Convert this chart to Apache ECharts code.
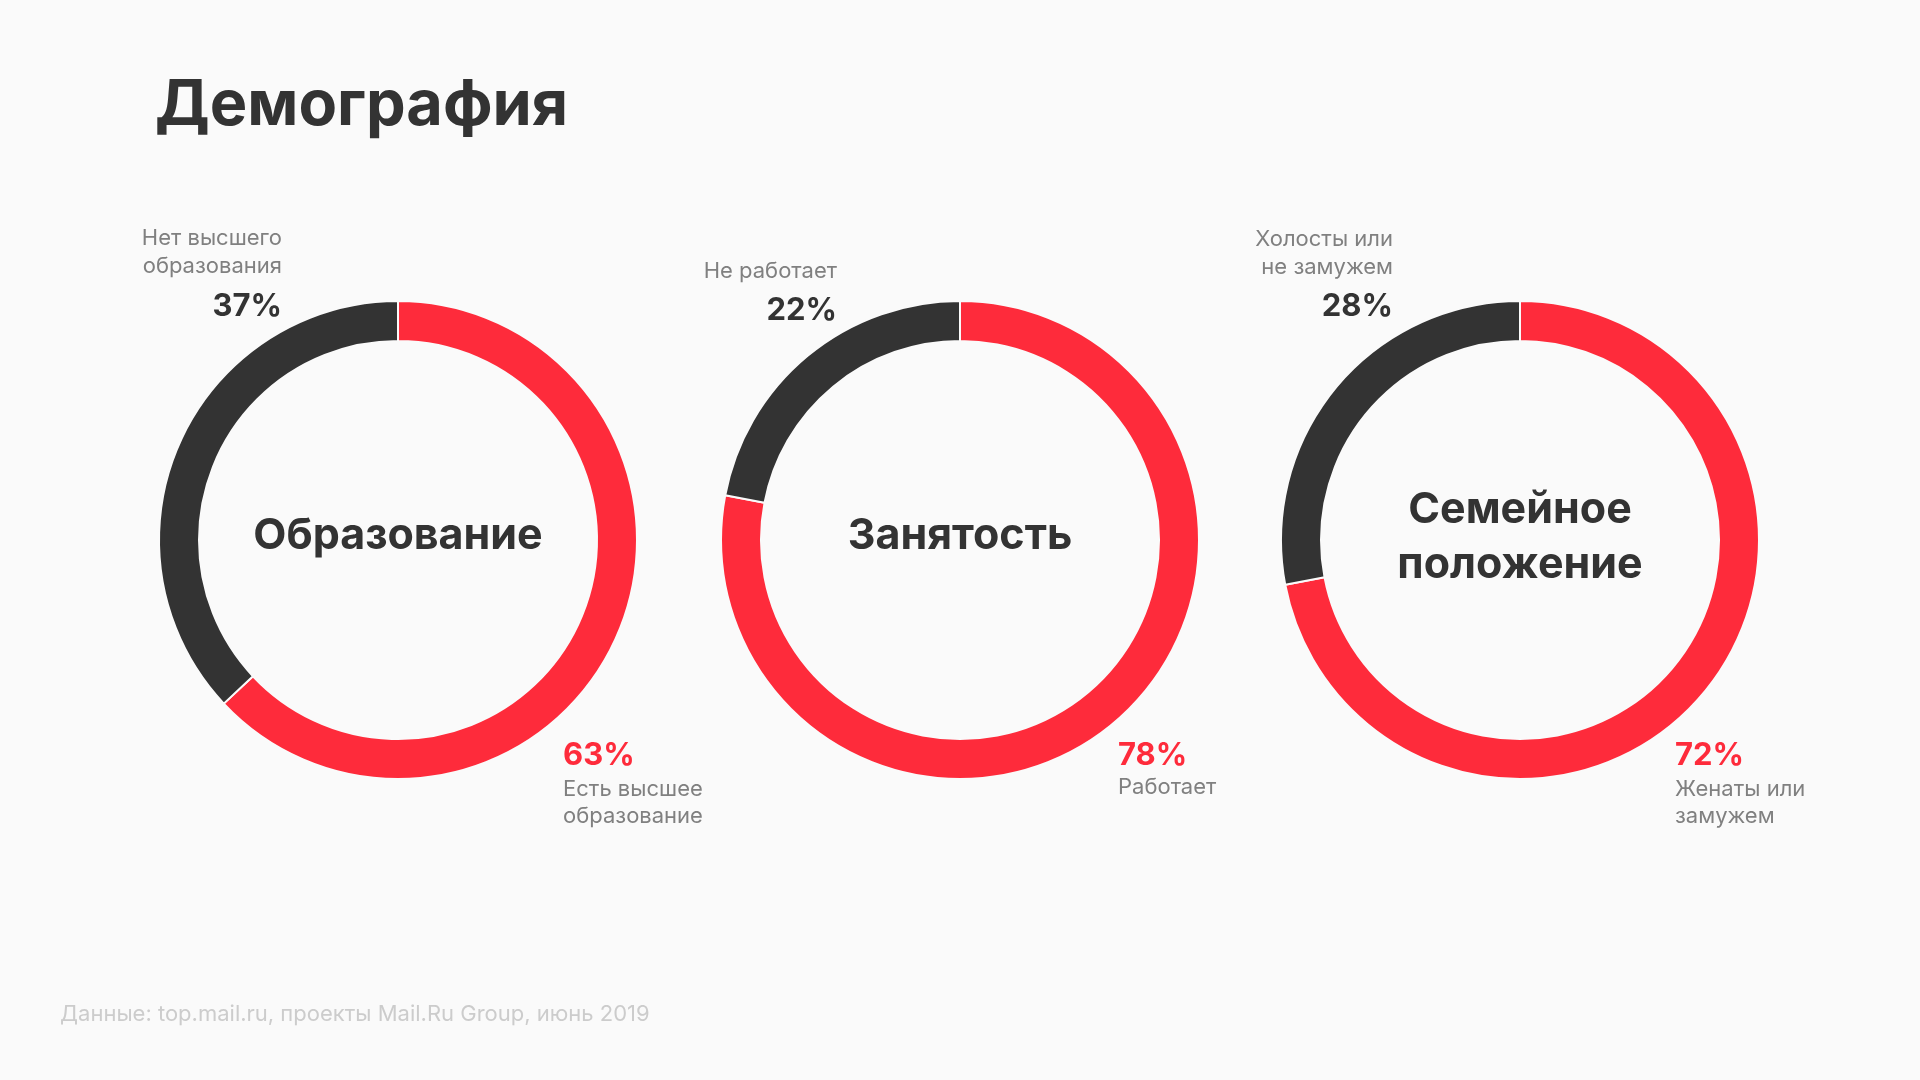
<!DOCTYPE html>
<html>
<head>
<meta charset="utf-8">
<script src="https://cdn.jsdelivr.net/npm/echarts@6/dist/echarts.min.js"></script>
<style>
html,body{margin:0;padding:0;background:#fafafa;}
#chart{width:1920px;height:1080px;}
</style>
</head>
<body>
<div id="chart"></div>
<script>
// ---- data ----
const pageTitle = 'Демография';
const sourceNote = 'Данные: top.mail.ru, проекты Mail.Ru Group, июнь 2019';
const chartNames = ['Образование', 'Занятость', 'Семейное\nположение'];
const yesLabels = ['Есть высшее\nобразование', 'Работает', 'Женаты или\nзамужем'];
const noLabels = ['Нет высшего\nобразования', 'Не работает', 'Холосты или\nне замужем'];
const yesValues = [63, 78, 72];
const noValues = [37, 22, 28];

// ---- styling / layout ----
const RED = '#fe2b3b';
const DARK = '#333333';
const GRAY = '#808080';
const FONT = 'Inter, "Noto Sans", sans-serif';
const centers = [[398, 540], [960, 540], [1520, 540]];
const noLabelPos = [
  {x: 282, ty: 252, py: 307},
  {x: 837, ty: 271, py: 311},
  {x: 1393, ty: 253, py: 307}
];
const yesLabelPos = [
  {x: 563, py: 756, ty: 803},
  {x: 1118, py: 756, ty: 787},
  {x: 1675, py: 756, ty: 803}
];

const series = chartNames.map((name, i) => ({
  type: 'pie',
  center: centers[i],
  radius: [199, 239],
  startAngle: 90,
  clockwise: true,
  silent: true,
  label: {show: false},
  labelLine: {show: false},
  itemStyle: {borderColor: '#fafafa', borderWidth: 2},
  data: [
    {name: yesLabels[i], value: yesValues[i], itemStyle: {color: RED}},
    {name: noLabels[i], value: noValues[i], itemStyle: {color: DARK}}
  ]
}));

const graphics = [
  {
    type: 'text', silent: true,
    style: {
      text: pageTitle, x: 155, y: 106,
      fill: DARK, font: 'bold 63px ' + FONT,
      textAlign: 'left', textVerticalAlign: 'middle'
    }
  },
  {
    type: 'text', silent: true,
    style: {
      text: sourceNote, x: 60, y: 1014,
      fill: '#cccccc', font: '22px ' + FONT,
      textAlign: 'left', textVerticalAlign: 'middle'
    }
  }
];
chartNames.forEach((name, i) => {
  const lines = name.split('\n').length;
  graphics.push({
    type: 'text', silent: true,
    style: {
      text: name, x: centers[i][0], y: lines > 1 ? 538 : 536,
      fill: DARK, font: 'bold 43px ' + FONT,
      textAlign: 'center', textVerticalAlign: 'middle', lineHeight: 55
    }
  });
  graphics.push({
    type: 'text', silent: true,
    style: {
      text: noLabels[i], x: noLabelPos[i].x, y: noLabelPos[i].ty,
      fill: GRAY, font: '22px ' + FONT,
      textAlign: 'right', textVerticalAlign: 'middle', lineHeight: 28
    }
  });
  graphics.push({
    type: 'text', silent: true,
    style: {
      text: noValues[i] + '%', x: noLabelPos[i].x, y: noLabelPos[i].py,
      fill: DARK, font: 'bold 31px ' + FONT,
      textAlign: 'right', textVerticalAlign: 'middle'
    }
  });
  graphics.push({
    type: 'text', silent: true,
    style: {
      text: yesValues[i] + '%', x: yesLabelPos[i].x, y: yesLabelPos[i].py,
      fill: RED, font: 'bold 31px ' + FONT,
      textAlign: 'left', textVerticalAlign: 'middle'
    }
  });
  graphics.push({
    type: 'text', silent: true,
    style: {
      text: yesLabels[i], x: yesLabelPos[i].x, y: yesLabelPos[i].ty,
      fill: GRAY, font: '22px ' + FONT,
      textAlign: 'left', textVerticalAlign: 'middle', lineHeight: 27
    }
  });
});

const chart = echarts.init(document.getElementById('chart'), null, {renderer: 'canvas'});
chart.setOption({
  backgroundColor: '#fafafa',
  animation: false,
  graphic: graphics,
  series: series
});
</script>
</body>
</html>
